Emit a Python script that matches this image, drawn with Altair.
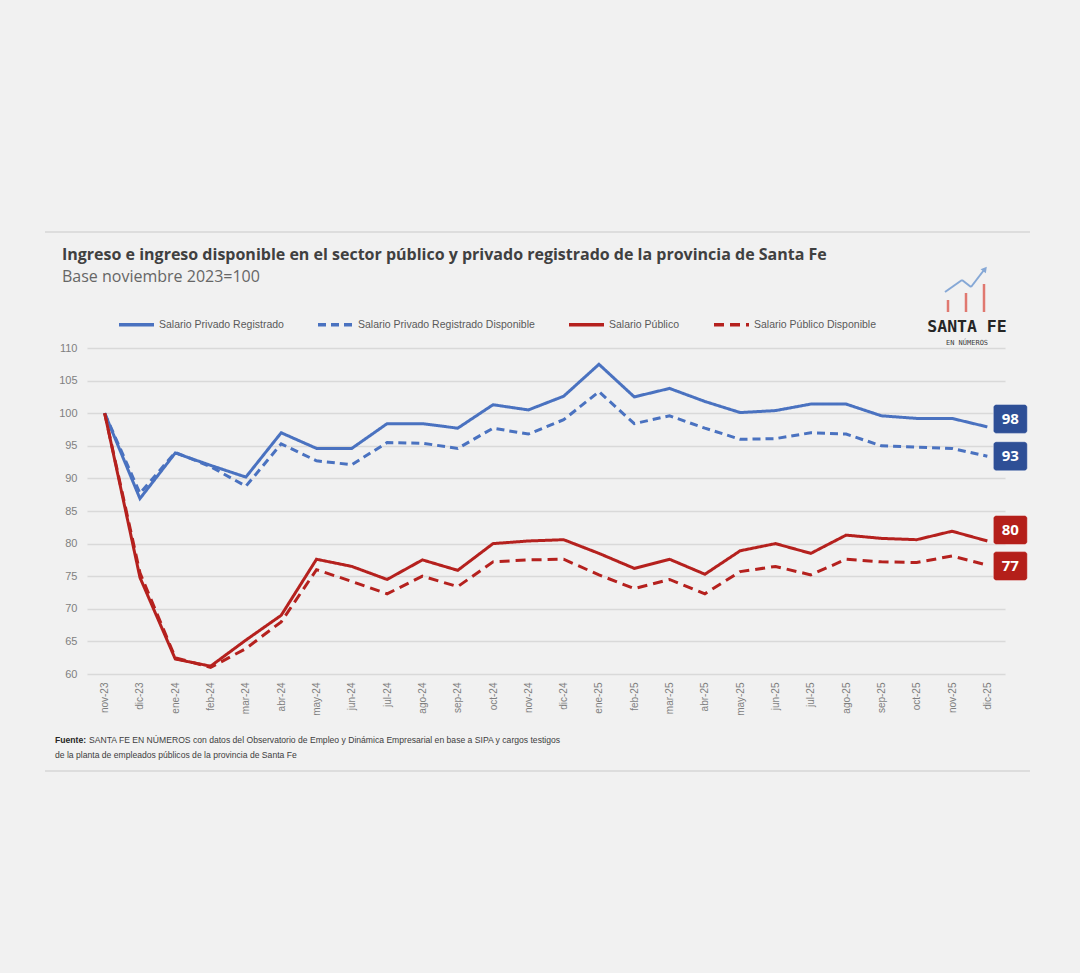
import altair as alt
import pandas as pd

months = ["nov-23", "dic-23", "ene-24", "feb-24", "mar-24", "abr-24", "may-24", "jun-24",
          "jul-24", "ago-24", "sep-24", "oct-24", "nov-24", "dic-24", "ene-25", "feb-25",
          "mar-25", "abr-25", "may-25", "jun-25", "jul-25", "ago-25", "sep-25", "oct-25",
          "nov-25", "dic-25"]

series_names = ["Salario Privado Registrado", "Salario Privado Registrado Disponible",
                "Salario Público", "Salario Público Disponible"]

priv = [100, 86.9, 93.9, 92.0, 90.2, 97.0, 94.6, 94.6, 98.4, 98.4, 97.7, 101.3, 100.5,
        102.6, 107.5, 102.5, 103.8, 101.8, 100.1, 100.4, 101.4, 101.4, 99.6, 99.2, 99.2, 97.9]
priv_disp = [100, 87.7, 94.0, 91.8, 88.8, 95.3, 92.7, 92.1, 95.5, 95.4, 94.6, 97.7, 96.8,
             99.0, 103.3, 98.4, 99.6, 97.7, 96.0, 96.1, 97.0, 96.8, 95.0, 94.8, 94.6, 93.4]
pub = [100, 74.8, 62.3, 61.2, 65.2, 69.0, 77.6, 76.5, 74.5, 77.5, 75.9, 80.0, 80.4,
       80.6, 78.5, 76.2, 77.6, 75.3, 78.9, 80.0, 78.5, 81.3, 80.8, 80.6, 81.9, 80.4]
pub_disp = [100, 75.5, 62.5, 61.0, 63.9, 68.0, 76.0, 74.2, 72.3, 75.0, 73.4, 77.2, 77.5,
            77.6, 75.2, 73.1, 74.5, 72.3, 75.7, 76.5, 75.2, 77.6, 77.2, 77.1, 78.1, 76.7]

y_ticks = [60, 65, 70, 75, 80, 85, 90, 95, 100, 105, 110]

title_text = "Ingreso e ingreso disponible en el sector público y privado registrado de la provincia de Santa Fe"
subtitle_text = "Base noviembre 2023=100"
source_bold = "Fuente:"
source_line1 = "SANTA FE EN NÚMEROS con datos del Observatorio de Empleo y Dinámica Empresarial en base a SIPA y cargos testigos"
source_line2 = "de la planta de empleados públicos de la provincia de Santa Fe"
logo_main = "SANTA FE"
logo_sub = "EN NÚMEROS"

line_colors = ["#4A72C0", "#4A72C0", "#B5211E", "#B5211E"]
box_colors = ["#2E4F96", "#2E4F96", "#B41F1A", "#B41F1A"]
dashes = [[1, 0], [8, 5], [1, 0], [10, 6]]
label_nudges = [-8, 0, -11, 1]

rows = []
for name, vals in zip(series_names, [priv, priv_disp, pub, pub_disp]):
    for m, v in zip(months, vals):
        rows.append({"mes": m, "serie": name, "valor": v})
df = pd.DataFrame(rows)

W, H = 918, 326
PL, PT = 87, 348
SANS = "Liberation Sans"

x_scale = alt.Scale(type="point", padding=0.5)
y_scale = alt.Scale(domain=[60, 110], nice=False, zero=False)

x_axis = alt.Axis(title=None, labelAngle=-90, labelColor="#7F7F7F", labelFontSize=10,
                  labelFont=SANS, ticks=False, domain=False, labelPadding=8, grid=False)
y_axis = alt.Axis(title=None, values=y_ticks, labelColor="#7F7F7F", labelFontSize=11,
                  labelFont=SANS, ticks=False, domain=False, labelOverlap=False,
                  labelPadding=10, grid=True, gridColor="#D9D9D9", gridWidth=1.5)

x_enc = alt.X("mes:N", sort=months, scale=x_scale, axis=x_axis)
y_enc = alt.Y("valor:Q", scale=y_scale, axis=y_axis)

lines = alt.Chart(df).mark_line(strokeWidth=3).encode(
    x=x_enc, y=y_enc,
    color=alt.Color("serie:N", sort=series_names,
                    scale=alt.Scale(domain=series_names, range=line_colors),
                    legend=alt.Legend(title=None, orient="none", legendX=30, legendY=-43,
                                      direction="horizontal", columns=4, columnPadding=27,
                                      symbolType="stroke", symbolSize=1225, symbolStrokeWidth=3.5,
                                      labelFont=SANS, labelFontSize=10.5,
                                      labelColor="#595959", labelOffset=3, labelLimit=300)),
    strokeDash=alt.StrokeDash("serie:N", sort=series_names,
                              scale=alt.Scale(domain=series_names, range=dashes)),
    detail="serie:N",
)

layers = [lines]

last = df[df["mes"] == months[-1]]
for name, bc, nud in zip(series_names, box_colors, label_nudges):
    d = last[last["serie"] == name]
    base = alt.Chart(d).encode(x=x_enc, y=y_enc)
    layers.append(base.mark_rect(width=34, height=29, xOffset=23, yOffset=nud,
                                 cornerRadius=3, color=bc, stroke="#ffffff",
                                 strokeOpacity=0.4, strokeWidth=1))
    layers.append(base.mark_text(xOffset=23, yOffset=nud, color="white", fontSize=15,
                                 fontWeight="bold", font="Open Sans", align="center",
                                 baseline="middle").encode(text=alt.Text("valor:Q", format=".0f")))


def txt(t, x, y, align="left", **kw):
    return alt.Chart(pd.DataFrame({"t": [t]})).mark_text(align=align, baseline="middle", **kw).encode(
        x=alt.value(x - PL), y=alt.value(y - PT), text="t:N")


def rule(x1, y1, x2, y2, **kw):
    return alt.Chart(pd.DataFrame({"t": [0]})).mark_rule(**kw).encode(
        x=alt.value(x1 - PL), y=alt.value(y1 - PT), x2=alt.value(x2 - PL), y2=alt.value(y2 - PT))


layers += [
    rule(45, 232, 1030, 232, color="#D6D6D6", strokeWidth=1.5),
    rule(45, 771, 1030, 771, color="#D6D6D6", strokeWidth=1.5),
    txt(title_text, 62, 255, font="Open Sans", fontSize=16, fontWeight="bold", color="#404040"),
    txt(subtitle_text, 62, 277, font="Open Sans", fontSize=16, color="#666666"),
    txt(source_bold, 55, 740, font=SANS, fontSize=8.6, fontWeight="bold", color="#262626"),
    txt(source_line1, 89, 740, font=SANS, fontSize=8.6, color="#404040"),
    txt(source_line2, 55, 755, font=SANS, fontSize=8.6, color="#404040"),
    # logo
    rule(948, 300, 948, 312, color="#E07870", strokeWidth=2.5),
    rule(966, 293, 966, 312, color="#E07870", strokeWidth=2.5),
    rule(984, 284, 984, 312, color="#E07870", strokeWidth=2.5),
    rule(945, 292, 962, 280, color="#86A8D6", strokeWidth=2),
    rule(962, 280, 971, 287, color="#86A8D6", strokeWidth=2),
    rule(971, 287, 984, 270, color="#86A8D6", strokeWidth=2),
]
layers.append(
    alt.Chart(pd.DataFrame({"t": [0]})).mark_point(shape="triangle-up", filled=True, size=45,
                                                   angle=38, color="#86A8D6", opacity=1).encode(
        x=alt.value(985 - PL), y=alt.value(269 - PT))
)
layers += [
    txt(logo_main, 967, 327, align="center", font="DejaVu Sans Mono", fontSize=16.5,
        fontWeight="bold", color="#262626"),
    txt(logo_sub, 967, 343, align="center", font="DejaVu Sans Mono", fontSize=7,
        color="#404040"),
]

chart = alt.layer(*layers).properties(
    width=W, height=H,
    padding={"left": PL, "top": PT, "right": 1080 - PL - W, "bottom": 973 - PT - H},
    autosize=alt.AutoSizeParams(type="none"),
    background="#F1F1F1",
).configure_view(stroke=None)

chart.save("out.html", embed_options={"renderer": "svg", "actions": False})
